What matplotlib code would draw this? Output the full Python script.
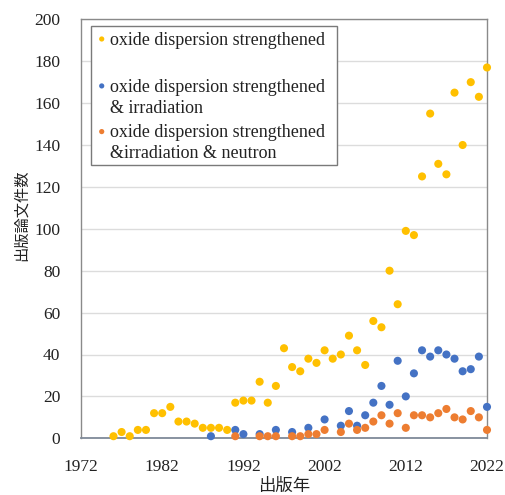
import matplotlib
matplotlib.use("Agg")
import matplotlib.pyplot as plt
from matplotlib.patches import Rectangle

# Publication counts per year
years_ods = list(range(1976, 2023))
ods = [1, 3, 1, 4, 4, 12, 12, 15, 8, 8, 7, 5, 5, 5, 4,
       17, 18, 18, 27, 17, 25, 43, 34, 32, 38, 36, 42, 38, 40, 49,
       42, 35, 56, 53, 80, 64, 99, 97, 125, 155, 131, 126, 165, 140,
       170, 163, 177]

years_irr = [1988, 1991, 1992, 1994, 1996, 1998, 2000, 2002, 2004, 2005,
             2006, 2007, 2008, 2009, 2010, 2011, 2012, 2013, 2014, 2015,
             2016, 2017, 2018, 2019, 2020, 2021, 2022]
irr = [1, 4, 2, 2, 4, 3, 5, 9, 6, 13,
       6, 11, 17, 25, 16, 37, 20, 31, 42, 39,
       42, 40, 38, 32, 33, 39, 15]

years_neu = [1991, 1994, 1995, 1996, 1998, 1999, 2000, 2001, 2002, 2004,
             2005, 2006, 2007, 2008, 2009, 2010, 2011, 2012, 2013, 2014,
             2015, 2016, 2017, 2018, 2019, 2020, 2021, 2022]
neu = [1, 1, 1, 1, 1, 1, 2, 2, 4, 3,
       7, 4, 5, 8, 11, 7, 12, 5, 11, 11,
       10, 12, 14, 10, 9, 13, 10, 4]

series_labels = ["oxide dispersion strengthened",
                 "oxide dispersion strengthened\n& irradiation",
                 "oxide dispersion strengthened\n&irradiation & neutron"]
colors = ["#FFC000", "#4472C4", "#ED7D31"]

x_ticks = [1972, 1982, 1992, 2002, 2012, 2022]
y_ticks = list(range(0, 201, 20))

serif = "Liberation Serif"
cjk = ["Noto Sans CJK JP", "DejaVu Sans"]

fig = plt.figure(figsize=(5.05, 4.95), dpi=100)
ax = fig.add_axes([81 / 505, 1 - 438.3 / 495, 406 / 505, 419 / 495])

for xs, ys, c in zip([years_ods, years_irr, years_neu], [ods, irr, neu], colors):
    ax.scatter(xs, ys, s=34, color=c, edgecolors="none", zorder=3, clip_on=False)

ax.set_xlim(1972, 2022)
ax.set_ylim(0, 200)
ax.set_xticks(x_ticks)
ax.set_yticks(y_ticks)
ax.set_xticklabels([str(v) for v in x_ticks], fontfamily=serif, fontsize=12.5)
ax.set_yticklabels([str(v) for v in y_ticks], fontfamily=serif, fontsize=12.5)
ax.tick_params(axis="both", length=0, colors="#222222")
ax.tick_params(axis="x", pad=15)
ax.tick_params(axis="y", pad=15)
ax.grid(axis="y", color="#dcdcdc", linewidth=1.0, zorder=0)
ax.set_axisbelow(True)
for name, sp in ax.spines.items():
    sp.set_color("#8a8a8a")
    sp.set_linewidth(1.0)
ax.spines["bottom"].set_color("#7f8a99")
ax.spines["bottom"].set_linewidth(1.3)

# Legend box drawn in axes coordinates, marker beside the first line of each label
box = Rectangle((0.024, 0.652), 0.606, 0.332, transform=ax.transAxes,
                facecolor="white", edgecolor="#7a7a7a", linewidth=1.0, zorder=4)
ax.add_patch(box)
entry_y = [0.953, 0.841, 0.732]
for lab, c, yy in zip(series_labels, colors, entry_y):
    ax.scatter([0.051], [yy], s=14, color=c, edgecolors="none",
               transform=ax.transAxes, zorder=5, clip_on=False)
    ax.text(0.0714, yy + 0.017, lab, transform=ax.transAxes, fontfamily=serif,
            fontsize=13, color="#222222", ha="left", va="top",
            linespacing=1.3, zorder=5)

fig.text(21.7 / 505, 1 - 215 / 495, "出版論文件数", rotation=90,
         ha="center", va="center", family=cjk, fontsize=11, color="#222222")
fig.text(284 / 505, 1 - 486 / 495, "出版年", ha="center", va="center",
         family=cjk, fontsize=12.5, color="#222222")

fig.savefig("out.png", dpi=100)
